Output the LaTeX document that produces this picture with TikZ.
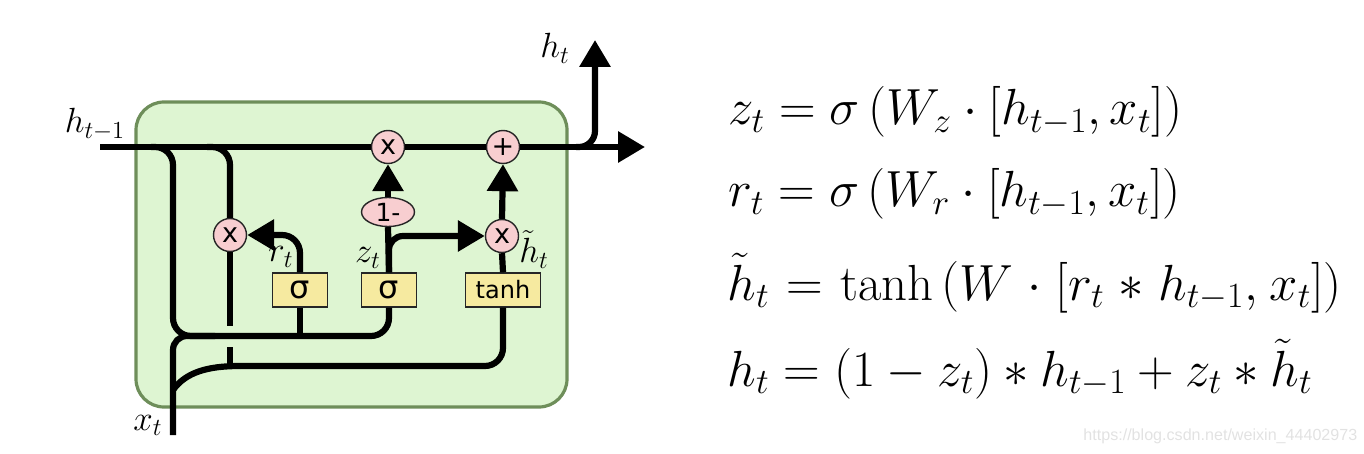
\RequirePackage{fix-cm}
\documentclass[tikz,border=0pt]{standalone}
\usepackage{fontspec}
\newfontfamily\gatefont{DejaVu Sans}
\newfontfamily\markfont{Liberation Sans}
\usetikzlibrary{arrows.meta,shapes.geometric}

\definecolor{cellfill}{RGB}{222,245,210}
\definecolor{celledge}{RGB}{110,142,90}
\definecolor{opfill}{RGB}{248,206,208}
\definecolor{gatefill}{RGB}{246,234,160}
\definecolor{markgray}{RGB}{226,226,226}

\tikzset{
  cellbox/.style={draw=celledge, fill=cellfill, line width=1.6pt, rounded corners=14pt,
    minimum width=215.5pt, minimum height=152.5pt, inner sep=0pt},
  opnode/.style={circle, draw=black!85, line width=0.7pt, fill=opfill, minimum size=16.5pt,
    inner sep=0pt, font=\gatefont\fontsize{13.5}{13.5}\selectfont},
  onenode/.style={ellipse, draw=black!85, line width=0.7pt, fill=opfill, minimum width=26.5pt,
    minimum height=14.5pt, inner sep=0pt, font=\gatefont\fontsize{12.5}{12.5}\selectfont},
  gatebox/.style={rectangle, draw=black!85, line width=0.7pt, fill=gatefill, minimum width=27.5pt,
    minimum height=17pt, inner sep=0pt, font=\gatefont\fontsize{16}{16}\selectfont},
  wire/.style={line width=3.1pt},
  arr/.style={wire, -{Triangle[length=13.5pt,width=15pt]}},
  lbl/.style={anchor=base, inner sep=0pt, font=\fontsize{17.5}{20}\selectfont},
  eqn/.style={anchor=base west, inner sep=0pt, font=\fontsize{25.4}{30}\selectfont},
}

\begin{document}
\begin{tikzpicture}[x=0.5pt, y=-0.5pt]
\useasboundingbox (0,0) rectangle (1364,454);

% cell body
\node[cellbox] (cell) at (351.5,254.5) {};

% gates and pointwise operations
\node[opnode] (mul1) at (388,147) {x};
\node[opnode] (plus) at (503,147) {+};
\node[opnode] (rmul) at (230,235) {x};
\node[opnode] (hmul) at (502,236) {x};
\node[onenode] (omz) at (388,212) {1-};
\node[gatebox] (sr) at (300,290) {σ};
\node[gatebox] (sz) at (389,290) {σ};
\node[gatebox, minimum width=37.5pt, font=\gatefont\fontsize{12}{12}\selectfont] (th) at (503,290) {tanh};

% free ends
\coordinate (hin) at (100,147);
\coordinate (hout) at (645,147);
\coordinate (hup) at (595,40);
\coordinate (xin) at (173,435);

% state line
\draw[wire] (hin) -- (mul1);
\draw[wire] (mul1) -- (plus);
\draw[arr] (plus) -- (hout);
\draw[arr, rounded corners=8pt] (576,147) -| (hup);

% h_{t-1} into the gate inputs
\draw[wire, rounded corners=9pt] (151,147) -- (173,147) -- (173,336) -- (389,336) -- (sz.south);
\draw[wire] (sr.south) -- (300,336);

% x_t input
\draw[wire, rounded corners=7pt] (xin) -- (173,336) -- (215,336);
\draw[wire] (173,390) .. controls (186,372) and (208,366) .. (240,366);
\draw[wire, rounded corners=9pt] (240,366) -- (503,366) -- (th.south);

% reset path
\draw[wire, rounded corners=9pt] (207,147) -- (230,147) -- (rmul.north);
\draw[wire] (rmul.south) -- (230,326);
\draw[wire] (230,347) -- (230,366);
\draw[arr, rounded corners=9pt] (sr.north) |- (rmul.east);

% update path
\draw[wire] (sz.north) -- (omz.south);
\draw[arr] (omz.north) -- (mul1.south);
\draw[arr, rounded corners=7pt] (sz.north) |- (hmul.west);

% candidate path
\draw[wire] (th.north) -- (hmul.south);
\draw[arr] (hmul.north) -- (plus.south);

% labels
\node[lbl] (lhin) at (95,133) {$h_{t-1}$};
\node[lbl] (lhout) at (555,58) {$h_t$};
\node[lbl] (lxin) at (148,430) {$x_t$};
\node[lbl] (lr) at (281,262) {$r_t$};
\node[lbl] (lz) at (368,263) {$z_t$};
\node[lbl] (lh) at (534,263) {$\tilde{h}_t$};

% equations
\node[eqn] (e1) at (728,125) {$z_t = \sigma\left(W_z\cdot[h_{t-1},x_t]\right)$};
\node[eqn] (e2) at (728,207) {$r_t = \sigma\left(W_r\cdot[h_{t-1},x_t]\right)$};
\node[eqn] (e3) at (727,300) {$\medmuskip=5mu\thickmuskip=6mu\tilde{h}_t = \tanh\left(W\cdot[r_t * h_{t-1},\mkern1mu x_t]\right)$};
\node[eqn] (e4) at (727,386) {$h_t = (1-z_t)*h_{t-1}+z_t*\tilde{h}_t$};

% watermark
\node[anchor=west, inner sep=0pt, text=markgray, font=\markfont\fontsize{8.05}{9}\selectfont] (wm) at (1083,436) {https://blog.csdn.net/weixin\_44402973};
\end{tikzpicture}
\end{document}
